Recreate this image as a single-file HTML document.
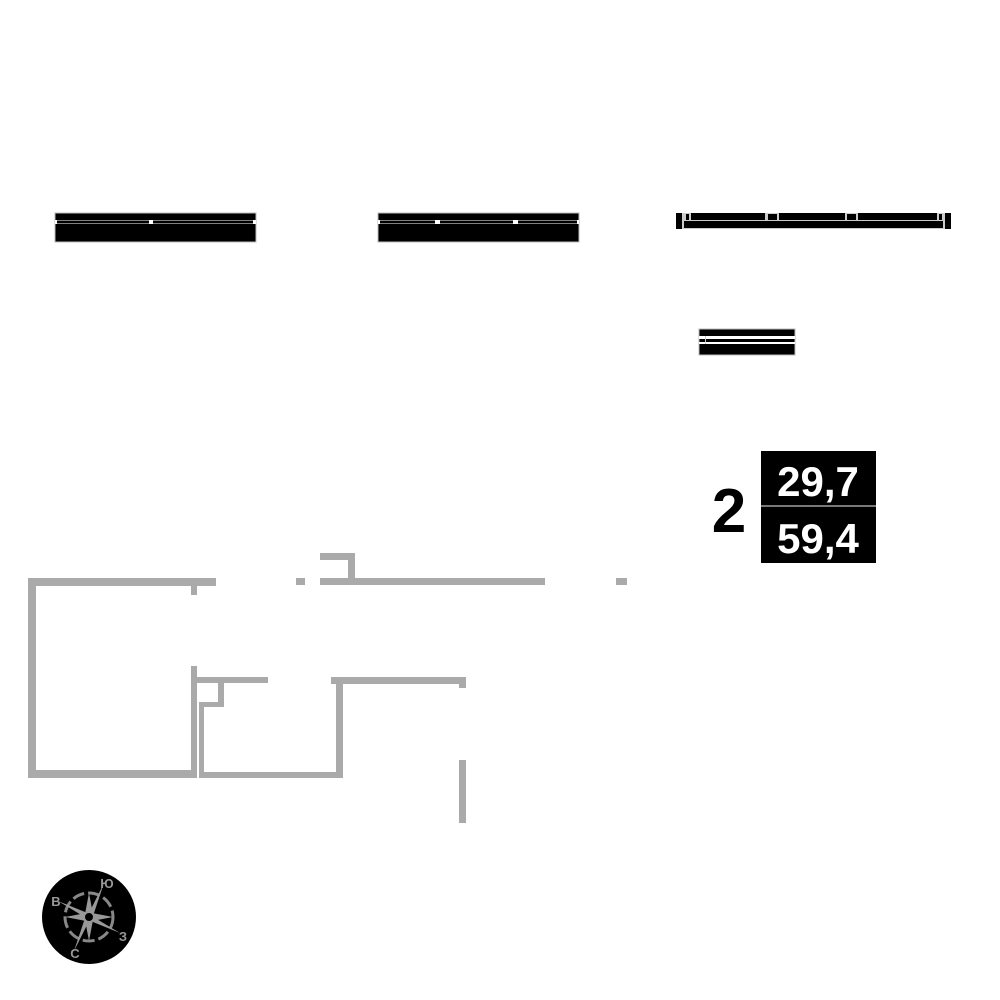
<!DOCTYPE html>
<html><head><meta charset="utf-8"><style>
html,body{margin:0;padding:0;background:#fff;}
svg{display:block}
</style></head><body>
<svg width="1000" height="1000" viewBox="0 0 1000 1000" xmlns="http://www.w3.org/2000/svg">
<g>
<rect x="55" y="213" width="201" height="29" fill="#000" stroke="#bbb" stroke-width="1"/>
<rect x="55" y="220" width="201" height="4" fill="#fff"/>
<rect x="57" y="220.5" width="92" height="3" fill="#000"/>
<rect x="153" y="220.5" width="100" height="3" fill="#000"/>
<rect x="378" y="213" width="201" height="29" fill="#000" stroke="#bbb" stroke-width="1"/>
<rect x="378" y="220" width="201" height="4" fill="#fff"/>
<rect x="380" y="220.5" width="55" height="3" fill="#000"/>
<rect x="440" y="220.5" width="73" height="3" fill="#000"/>
<rect x="518" y="220.5" width="59" height="3" fill="#000"/>
<rect x="676" y="213" width="275" height="16" fill="#000"/>
<rect x="682" y="213" width="263" height="16" fill="#ccc"/>
<rect x="684" y="221" width="259" height="7" fill="#000"/>
<rect x="686" y="214" width="3" height="6" fill="#000"/>
<rect x="691" y="213" width="74" height="7" fill="#000"/>
<rect x="768" y="214" width="9" height="6" fill="#000"/>
<rect x="779" y="213" width="66" height="7" fill="#000"/>
<rect x="847" y="214" width="9" height="6" fill="#000"/>
<rect x="858" y="213" width="79" height="7" fill="#000"/>
<rect x="939" y="214" width="3" height="6" fill="#000"/>
<rect x="699" y="329" width="96" height="26" fill="#000" stroke="#bbb" stroke-width="1"/>
<rect x="699" y="336" width="96" height="3" fill="#fff"/>
<rect x="699" y="342" width="96" height="2" fill="#fff"/>
<rect x="705" y="336" width="1" height="8" fill="#ccc"/>
</g>
<text x="729" y="532" font-family="'Liberation Sans',sans-serif" font-weight="bold" font-size="62" text-anchor="middle" fill="#000">2</text>
<rect x="761" y="451" width="115" height="112" fill="#000"/>
<rect x="761" y="505" width="115" height="2" fill="#777"/>
<text x="818" y="496" font-family="'Liberation Sans',sans-serif" font-weight="bold" font-size="42" text-anchor="middle" fill="#fff">29,7</text>
<text x="818" y="553" font-family="'Liberation Sans',sans-serif" font-weight="bold" font-size="42" text-anchor="middle" fill="#fff">59,4</text>
<g fill="#aaa">
<rect x="28" y="578" width="188" height="8"/>
<rect x="191" y="586" width="6" height="9"/>
<rect x="28" y="578" width="8" height="200"/>
<rect x="28" y="770" width="168" height="8"/>
<rect x="191" y="666" width="6" height="112"/>
<rect x="197" y="677" width="71" height="6"/>
<rect x="218" y="683" width="6" height="24"/>
<rect x="199" y="702" width="25" height="5"/>
<rect x="199" y="702" width="5" height="76"/>
<rect x="199" y="772" width="144" height="6"/>
<rect x="336" y="677" width="7" height="101"/>
<rect x="331" y="677" width="135" height="7"/>
<rect x="459" y="684" width="7" height="4"/>
<rect x="459" y="760" width="7" height="63"/>
<rect x="296" y="578" width="9" height="7"/>
<rect x="320" y="578" width="225" height="7"/>
<rect x="320" y="553" width="35" height="7"/>
<rect x="348" y="553" width="7" height="30"/>
<rect x="616" y="578" width="11" height="7"/>
</g>
<circle cx="89" cy="917" r="47" fill="#000"/>
<circle cx="89" cy="917" r="24" fill="none" stroke="#888" stroke-width="3" stroke-dasharray="12 4"/>
<g fill="#999">
<polygon points="104,883 94,913 85,921"/>
<polygon points="58,901 85,912 93,922"/>
<polygon points="74,951 84,921 93,913"/>
<polygon points="120,933 93,922 85,912"/>
<polygon points="89,893 93,914 85,914"/>
<polygon points="113,917 92,921 92,913"/>
<polygon points="89,941 85,920 93,920"/>
<polygon points="65,917 86,913 86,921"/>
</g>
<circle cx="89" cy="917" r="5" fill="#000" stroke="#999" stroke-width="2"/>
<g font-family="'Liberation Sans',sans-serif" font-weight="bold" font-size="13" fill="#999" text-anchor="middle">
<text x="107" y="888">Ю</text>
<text x="56" y="906">В</text>
<text x="123" y="941">З</text>
<text x="75" y="958">С</text>
</g>
</svg>
</body></html>
